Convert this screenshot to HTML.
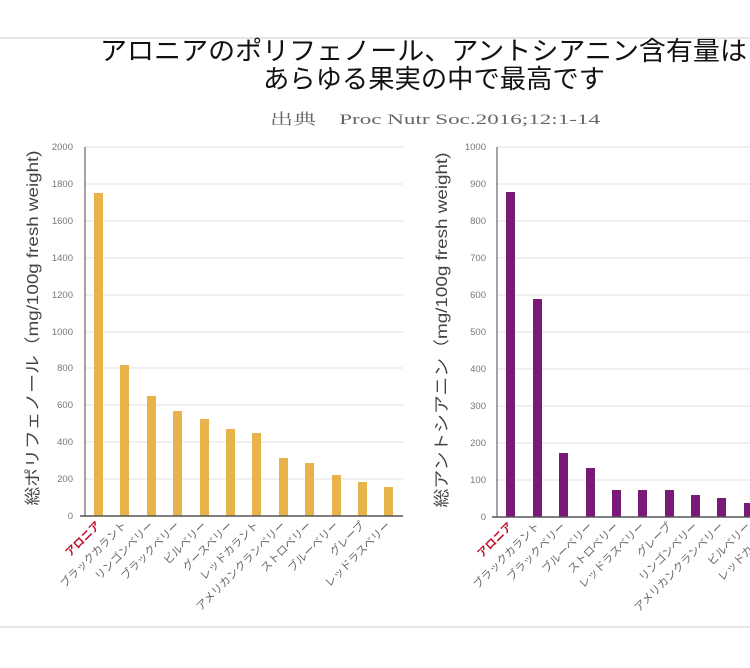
<!DOCTYPE html>
<html><head><meta charset="utf-8"><style>
html,body{margin:0;padding:0;background:#fff;}
svg{display:block;font-family:"Liberation Sans","Noto Sans CJK JP",sans-serif;}
</style></head><body>
<svg width="750" height="668" viewBox="0 0 750 668" xmlns="http://www.w3.org/2000/svg">
<rect width="750" height="668" fill="#fff"/>
<line x1="0" y1="38" x2="750" y2="38" stroke="#ccc" stroke-width="1"/>
<line x1="0" y1="627" x2="750" y2="627" stroke="#ddd" stroke-width="1.5"/>
<text x="100" y="60" font-size="26" fill="#111" textLength="647" lengthAdjust="spacingAndGlyphs">アロニアのポリフェノール、アントシアニン含有量は</text>
<text x="263" y="88" font-size="26" fill="#111" textLength="342" lengthAdjust="spacingAndGlyphs">あらゆる果実の中で最高です</text>
<text x="270" y="124" font-size="15" fill="#666" font-family="'Liberation Serif','Noto Serif CJK SC',serif" textLength="330" lengthAdjust="spacingAndGlyphs">出典　Proc Nutr Soc.2016;12:1-14</text>

<!-- Left chart -->
<g font-size="9.5" fill="#777" text-anchor="end">
<g stroke="#e2e2e2" stroke-width="1">
<line x1="85" y1="147" x2="403" y2="147"/><line x1="85" y1="184" x2="403" y2="184"/><line x1="85" y1="221" x2="403" y2="221"/><line x1="85" y1="258" x2="403" y2="258"/><line x1="85" y1="295" x2="403" y2="295"/><line x1="85" y1="332" x2="403" y2="332"/><line x1="85" y1="368" x2="403" y2="368"/><line x1="85" y1="405" x2="403" y2="405"/><line x1="85" y1="442" x2="403" y2="442"/><line x1="85" y1="479" x2="403" y2="479"/>
</g>
<text x="73" y="150">2000</text><text x="73" y="187">1800</text><text x="73" y="224">1600</text><text x="73" y="261">1400</text><text x="73" y="298">1200</text><text x="73" y="335">1000</text><text x="73" y="371">800</text><text x="73" y="408">600</text><text x="73" y="445">400</text><text x="73" y="482">200</text><text x="73" y="519">0</text>
</g>
<g fill="#e6b44a">
<rect x="94" y="193" width="9" height="323"/><rect x="120" y="365" width="9" height="151"/><rect x="147" y="396" width="9" height="120"/><rect x="173" y="411" width="9" height="105"/><rect x="200" y="419" width="9" height="97"/><rect x="226" y="429" width="9" height="87"/><rect x="252" y="433" width="9" height="83"/><rect x="279" y="458" width="9" height="58"/><rect x="305" y="463" width="9" height="53"/><rect x="332" y="475" width="9" height="41"/><rect x="358" y="482" width="9" height="34"/><rect x="384" y="487" width="9" height="29"/>
</g>
<line x1="85" y1="147" x2="85" y2="516" stroke="#666" stroke-width="1.2"/>
<line x1="80" y1="516" x2="403" y2="516" stroke="#555" stroke-width="1.5"/>
<text transform="translate(38,328) rotate(-90)" font-size="16" fill="#444" text-anchor="middle" textLength="355" lengthAdjust="spacingAndGlyphs">総ポリフェノール（mg/100g fresh weight)</text>
<g font-size="11" fill="#666" text-anchor="end">
<text transform="translate(101,526) rotate(-45)" fill="#c0102a" font-weight="bold">アロニア</text>
<text transform="translate(127,526) rotate(-45)">ブラックカラント</text>
<text transform="translate(154,526) rotate(-45)">リンゴンベリー</text>
<text transform="translate(180,526) rotate(-45)">ブラックベリー</text>
<text transform="translate(207,526) rotate(-45)">ビルベリー</text>
<text transform="translate(233,526) rotate(-45)">グースベリー</text>
<text transform="translate(259,526) rotate(-45)">レッドカラント</text>
<text transform="translate(286,526) rotate(-45)">アメリカンクランベリー</text>
<text transform="translate(312,526) rotate(-45)">ストロベリー</text>
<text transform="translate(339,526) rotate(-45)">ブルーベリー</text>
<text transform="translate(365,526) rotate(-45)">グレープ</text>
<text transform="translate(391,526) rotate(-45)">レッドラスベリー</text>
</g>

<!-- Right chart -->
<g font-size="9.5" fill="#777" text-anchor="end">
<g stroke="#e2e2e2" stroke-width="1">
<line x1="497" y1="147" x2="750" y2="147"/><line x1="497" y1="184" x2="750" y2="184"/><line x1="497" y1="221" x2="750" y2="221"/><line x1="497" y1="258" x2="750" y2="258"/><line x1="497" y1="295" x2="750" y2="295"/><line x1="497" y1="332" x2="750" y2="332"/><line x1="497" y1="369" x2="750" y2="369"/><line x1="497" y1="406" x2="750" y2="406"/><line x1="497" y1="443" x2="750" y2="443"/><line x1="497" y1="480" x2="750" y2="480"/>
</g>
<text x="486" y="150">1000</text><text x="486" y="187">900</text><text x="486" y="224">800</text><text x="486" y="261">700</text><text x="486" y="298">600</text><text x="486" y="335">500</text><text x="486" y="372">400</text><text x="486" y="409">300</text><text x="486" y="446">200</text><text x="486" y="483">100</text><text x="486" y="520">0</text>
</g>
<g fill="#7a1a78">
<rect x="506" y="192" width="9" height="325"/><rect x="533" y="299" width="9" height="218"/><rect x="559" y="453" width="9" height="64"/><rect x="586" y="468" width="9" height="49"/><rect x="612" y="490" width="9" height="27"/><rect x="638" y="490" width="9" height="27"/><rect x="665" y="490" width="9" height="27"/><rect x="691" y="495" width="9" height="22"/><rect x="717" y="498" width="9" height="19"/><rect x="744" y="503" width="9" height="14"/>
</g>
<line x1="497" y1="147" x2="497" y2="517" stroke="#666" stroke-width="1.2"/>
<line x1="492" y1="517" x2="750" y2="517" stroke="#555" stroke-width="1.5"/>
<text transform="translate(447,330) rotate(-90)" font-size="16" fill="#444" text-anchor="middle" textLength="355" lengthAdjust="spacingAndGlyphs">総アントシアニン（mg/100g fresh weight)</text>
<g font-size="11" fill="#666" text-anchor="end">
<text transform="translate(513,527) rotate(-45)" fill="#c0102a" font-weight="bold">アロニア</text>
<text transform="translate(540,527) rotate(-45)">ブラックカラント</text>
<text transform="translate(566,527) rotate(-45)">ブラックベリー</text>
<text transform="translate(593,527) rotate(-45)">ブルーベリー</text>
<text transform="translate(619,527) rotate(-45)">ストロベリー</text>
<text transform="translate(645,527) rotate(-45)">レッドラスベリー</text>
<text transform="translate(672,527) rotate(-45)">グレープ</text>
<text transform="translate(698,527) rotate(-45)">リンゴンベリー</text>
<text transform="translate(724,527) rotate(-45)">アメリカンクランベリー</text>
<text transform="translate(751,527) rotate(-45)">ビルベリー</text>
<text transform="translate(777,527) rotate(-45)">レッドカラント</text>
</g>
</svg>
</body></html>
